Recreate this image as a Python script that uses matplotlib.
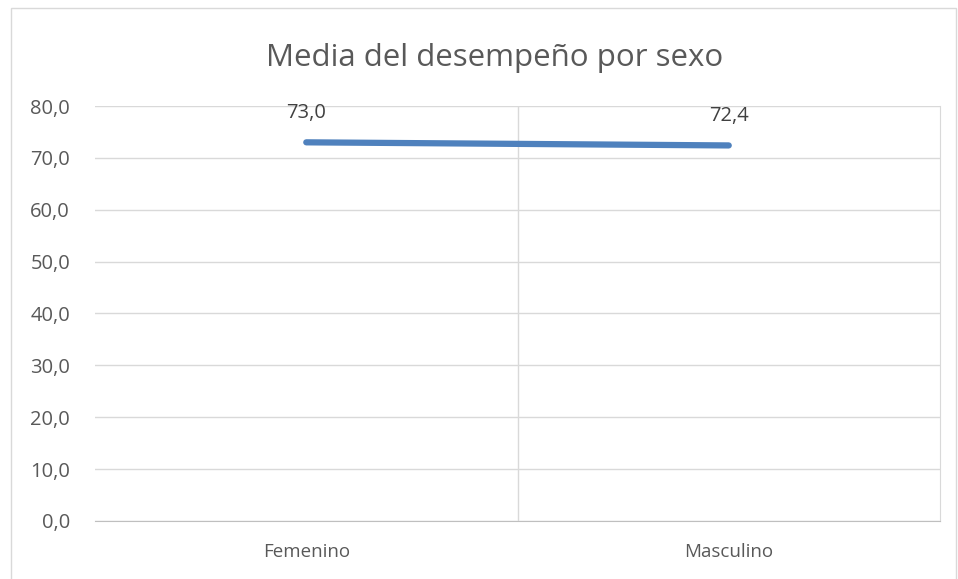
import matplotlib.pyplot as plt
from matplotlib.patches import Rectangle

categories = ['Femenino', 'Masculino']
values = [73.0, 72.4]
yticks = [0, 10, 20, 30, 40, 50, 60, 70, 80]

plt.rcParams['font.family'] = ['Open Sans', 'DejaVu Sans']

fig = plt.figure(figsize=(9.58, 5.79), dpi=100)
fig.patches.append(Rectangle((11 / 958, -0.01), 945 / 958, 1 - 8 / 579 + 0.01,
                             transform=fig.transFigure, fill=False,
                             edgecolor='#D9D9D9', linewidth=1))

ax = fig.add_axes([0.0992, 0.1002, 0.8820, 0.7167])
x = list(range(len(categories)))
ax.plot(x, values, color='#4F81BD', linewidth=4.5, solid_capstyle='round', zorder=3)

for xi, v in zip(x, values):
    ax.annotate(f'{v:.1f}'.replace('.', ','), (xi, v), xytext=(0, 14),
                textcoords='offset points', ha='center', va='bottom',
                fontsize=14.5, color='#404040')

ax.set_xlim(-0.5, len(categories) - 0.5)
ax.set_ylim(0, 80)
ax.set_yticks(yticks)
ax.set_yticklabels([f'{t:.1f}'.replace('.', ',') for t in yticks])
ax.set_xticks(x)
ax.set_xticklabels(categories)
ax.set_xticks([0.5], minor=True)

ax.grid(axis='y', color='#D9D9D9', linewidth=1)
ax.grid(axis='x', which='minor', color='#D9D9D9', linewidth=1)
ax.set_axisbelow(True)
for side in ['top', 'left']:
    ax.spines[side].set_visible(False)
ax.spines['right'].set_color('#D9D9D9')
ax.spines['bottom'].set_color('#BFBFBF')
ax.tick_params(axis='both', which='both', length=0, labelcolor='#595959')
ax.tick_params(axis='y', pad=18, labelsize=14.5)
ax.tick_params(axis='x', pad=16, labelsize=13.5)

fig.text(0.516, 0.9, 'Media del desempeño por sexo', ha='center', va='center',
         fontsize=22.5, color='#595959')

fig.savefig('out.png', dpi=100)
